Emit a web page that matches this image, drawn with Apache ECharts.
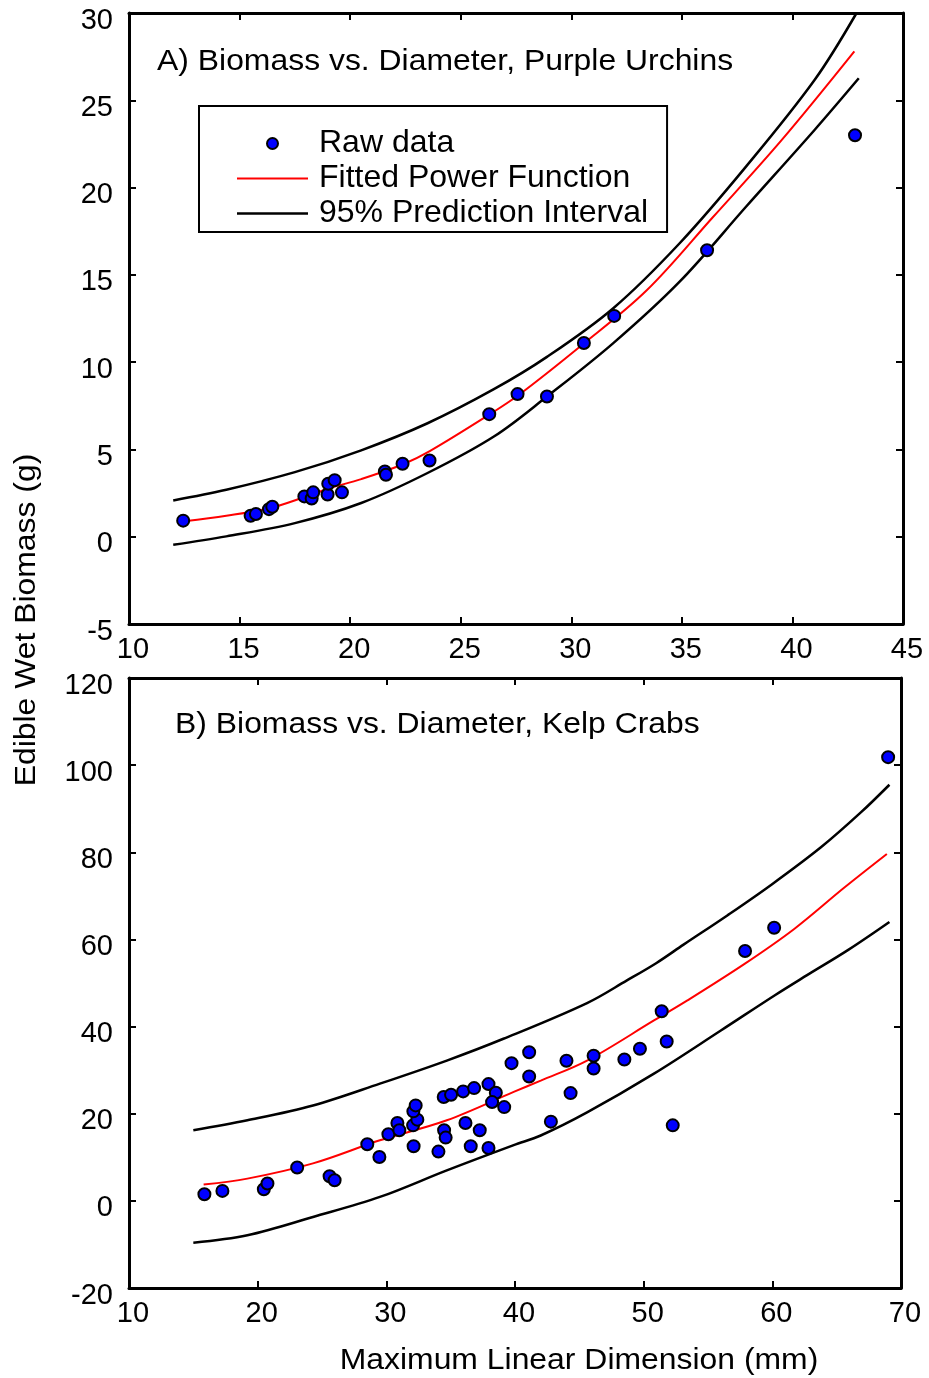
<!DOCTYPE html>
<html>
<head>
<meta charset="utf-8">
<script src="https://cdn.jsdelivr.net/npm/echarts@6/dist/echarts.min.js"></script>
<style>
  html, body { margin: 0; padding: 0; background: #fff; }
  #chart { width: 929px; height: 1378px; }
</style>
</head>
<body>
<div id="chart"></div>
<script>
// A) purple urchins - raw data
const urchinX = [12.45, 15.5, 15.74, 16.33, 16.48, 17.93, 18.26, 18.33, 18.98, 19.01, 19.3, 19.63,
  21.57, 21.62, 22.37, 23.59, 26.29, 27.57, 28.9, 30.57, 31.94, 36.14, 42.83];
const urchinY = [0.92, 1.2, 1.3, 1.58, 1.72, 2.31, 2.19, 2.54, 2.42, 3.03, 3.24, 2.54,
  3.74, 3.55, 4.18, 4.37, 7.02, 8.17, 8.03, 11.1, 12.65, 16.41, 23.0];

// A) fitted curve and 95% prediction interval
const urchinFitX = [12.5, 14.4, 16.4, 18.0, 19.0, 20.5, 22.4, 23.6, 26.3, 27.6, 30.4, 33.4, 36.4, 39.5, 42.8];
const urchinFitY = [0.88, 1.2, 1.65, 2.3, 2.75, 3.3, 4.15, 4.9, 7.0, 8.1, 10.9, 14.1, 18.3, 22.7, 27.8];
const urchinUpX = [12.0, 14.4, 17.5, 20.5, 23.5, 26.5, 28.9, 31.9, 34.9, 37.9, 41.0, 42.9];
const urchinUpY = [2.08, 2.69, 3.7, 4.95, 6.5, 8.45, 10.3, 13.09, 16.81, 21.2, 26.16, 30.0];
const urchinLowX = [12.0, 14.4, 17.5, 20.5, 23.5, 26.5, 28.9, 31.9, 34.9, 37.9, 41.0, 43.0];
const urchinLowY = [-0.46, 0.02, 0.78, 1.93, 3.65, 5.74, 8.03, 11.09, 14.61, 18.9, 23.3, 26.26];

// B) kelp crabs - raw data
const crabX = [15.86, 17.26, 20.48, 20.76, 23.07, 25.59, 25.98, 28.52, 29.46, 30.16, 30.86, 31.01,
  32.12, 32.08, 32.41, 32.1, 32.28, 34.05, 34.49, 34.61, 34.46, 35.03, 35.97, 36.82, 36.15, 36.56,
  37.26, 37.94, 37.94, 38.51, 38.22, 39.16, 39.73, 41.1, 41.1, 42.79, 44.0, 44.32, 46.11, 46.11,
  48.5, 49.71, 51.4, 51.79, 52.26, 57.88, 60.14, 69.0];
const crabY = [1.53, 2.29, 2.68, 3.98, 7.65, 5.66, 4.74, 12.98, 10.08, 15.27, 17.86, 16.19,
  12.53, 17.33, 18.64, 20.54, 21.91, 11.31, 16.19, 14.52, 23.82, 24.36, 25.12, 25.88, 17.86, 12.53,
  16.19, 12.14, 26.8, 24.82, 22.67, 21.52, 31.6, 34.12, 28.55, 18.18, 32.15, 24.73, 33.3, 30.39,
  32.45, 34.9, 43.51, 36.57, 17.33, 57.34, 62.67, 101.83];

// B) fitted curve and 95% prediction interval
const crabFitX = [15.8, 19.2, 24.3, 29.5, 34.7, 39.9, 42.0, 45.6, 50.8, 53.4, 57.9, 61.7, 65.6, 68.9];
const crabFitY = [3.75, 5.1, 8.6, 13.9, 18.5, 25.0, 27.6, 32.2, 41.4, 46.0, 54.5, 62.4, 71.9, 79.6];
const crabUpX = [15.0, 19.2, 24.3, 29.5, 34.7, 39.1, 45.6, 48.7, 51.0, 53.1, 56.5, 59.9, 63.8, 66.9, 69.1];
const crabUpY = [16.2, 18.5, 21.9, 26.9, 32.2, 37.2, 45.4, 50.6, 54.6, 58.8, 65.5, 72.5, 81.2, 89.2, 95.5];
const crabLowX = [15.0, 19.2, 24.3, 29.5, 34.7, 39.9, 42.0, 45.6, 50.8, 56.0, 60.2, 62.7, 65.9, 69.1];
const crabLowY = [-9.6, -7.9, -3.7, 0.9, 7.0, 12.8, 15.0, 20.3, 29.2, 39.1, 47.2, 51.8, 57.6, 64.0];

const FONT = '"Liberation Sans", Arial, sans-serif';
const pairs = (xs, ys) => xs.map((x, i) => [x, ys[i]]);

function axis(gridIndex, min, max, interval, position, showLabel) {
  const horizontal = position === 'bottom' || position === 'top';
  const label = {
    show: showLabel,
    color: '#000',
    fontFamily: FONT,
    fontSize: 29,
    margin: horizontal ? 11 : 16
  };
  if (horizontal) {
    label.padding = [0, 0, 0, 8];
  } else {
    // labels in the original sit a few pixels below their ticks
    label.verticalAlign = 'top';
    label.lineHeight = 15;
  }
  return {
    type: 'value',
    gridIndex: gridIndex,
    min: min,
    max: max,
    interval: interval,
    position: position,
    axisLine: { show: true, onZero: false, lineStyle: { color: '#000', width: 3 } },
    axisTick: { show: true, inside: true, length: 7, lineStyle: { color: '#000', width: 2 } },
    axisLabel: label,
    splitLine: { show: false }
  };
}

function scatter(name, xi, yi, xs, ys) {
  return {
    name: name, type: 'scatter', xAxisIndex: xi, yAxisIndex: yi, z: 5,
    symbol: 'circle', symbolSize: 12,
    itemStyle: { color: '#0000ff', borderColor: '#000', borderWidth: 2, opacity: 1 },
    data: pairs(xs, ys)
  };
}

function curve(name, xi, yi, xs, ys, color, width) {
  return {
    name: name, type: 'line', xAxisIndex: xi, yAxisIndex: yi, z: 3,
    symbol: 'none', smooth: 0.35,
    itemStyle: { color: color },
    lineStyle: { color: color, width: width },
    data: pairs(xs, ys)
  };
}

const chart = echarts.init(document.getElementById('chart'));
chart.setOption({
  animation: false,
  backgroundColor: '#fff',
  grid: [
    { left: 129, top: 13, width: 774, height: 611, show: false },
    { left: 129, top: 678, width: 772, height: 610, show: false }
  ],
  xAxis: [
    axis(0, 10, 45, 5, 'bottom', true),
    axis(0, 10, 45, 5, 'top', false),
    axis(1, 10, 70, 10, 'bottom', true),
    axis(1, 10, 70, 10, 'top', false)
  ],
  yAxis: [
    axis(0, -5, 30, 5, 'left', true),
    axis(0, -5, 30, 5, 'right', false),
    axis(1, -20, 120, 20, 'left', true),
    axis(1, -20, 120, 20, 'right', false)
  ],
  legend: {
    orient: 'vertical',
    left: 199,
    top: 106,
    padding: [20, 19, 1, 38],
    borderColor: '#000',
    borderWidth: 2,
    itemWidth: 71,
    itemHeight: 11,
    itemGap: 0,
    selectedMode: false,
    textStyle: { fontFamily: FONT, fontSize: 32, color: '#000', lineHeight: 35, padding: [0, 0, 0, 6] },
    data: [
      { name: 'Raw data', icon: 'circle' },
      { name: 'Fitted Power Function', icon: 'path://M0,0 L71,0 L71,2 L0,2 Z' },
      { name: '95% Prediction Interval', icon: 'path://M0,0 L71,0 L71,2.5 L0,2.5 Z' }
    ]
  },
  graphic: [
    { type: 'text', x: 157, y: 62, scaleX: 1.1, style: { x: 0, y: 0, text: 'A) Biomass vs. Diameter, Purple Urchins', font: '29px ' + FONT, fill: '#000', verticalAlign: 'middle' } },
    { type: 'text', x: 175, y: 725, scaleX: 1.1, style: { x: 0, y: 0, text: 'B) Biomass vs. Diameter, Kelp Crabs', font: '29px ' + FONT, fill: '#000', verticalAlign: 'middle' } },
    { type: 'text', x: 27, y: 620, rotation: Math.PI / 2, scaleX: 1.1, style: { x: 0, y: 0, text: 'Edible Wet Biomass (g)', font: '29px ' + FONT, fill: '#000', align: 'center', verticalAlign: 'middle' } },
    { type: 'text', x: 579, y: 1361, scaleX: 1.1, style: { x: 0, y: 0, text: 'Maximum Linear Dimension (mm)', font: '29px ' + FONT, fill: '#000', align: 'center', verticalAlign: 'middle' } }
  ],
  series: [
    scatter('Raw data', 0, 0, urchinX, urchinY),
    curve('Fitted Power Function', 0, 0, urchinFitX, urchinFitY, '#ff0000', 2),
    curve('95% Prediction Interval', 0, 0, urchinUpX, urchinUpY, '#000', 2.5),
    curve('95% Prediction Interval', 0, 0, urchinLowX, urchinLowY, '#000', 2.5),
    scatter('Raw data', 2, 2, crabX, crabY),
    curve('Fitted Power Function', 2, 2, crabFitX, crabFitY, '#ff0000', 2),
    curve('95% Prediction Interval', 2, 2, crabUpX, crabUpY, '#000', 2.5),
    curve('95% Prediction Interval', 2, 2, crabLowX, crabLowY, '#000', 2.5)
  ]
});
</script>
</body>
</html>
